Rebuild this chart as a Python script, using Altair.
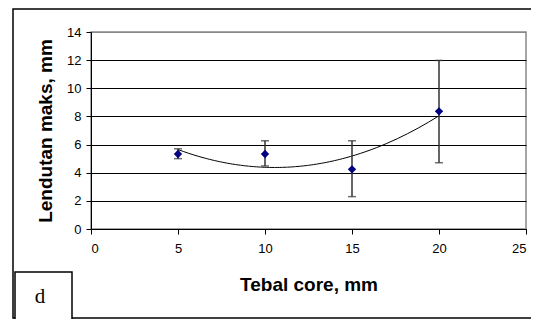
import altair as alt
import pandas as pd

thickness = [5, 10, 15, 20]
deflection = [5.33, 5.33, 4.24, 8.36]
err_low = [5.0, 4.48, 2.3, 4.71]
err_high = [5.7, 6.27, 6.27, 11.98]

x_ticks = [0, 5, 10, 15, 20, 25]
y_ticks = [0, 2, 4, 6, 8, 10, 12, 14]

x_title = "Tebal core, mm"
y_title = "Lendutan maks, mm"
panel_label = "d"

df = pd.DataFrame({"x": thickness, "y": deflection, "lo": err_low, "hi": err_high})

FONT = "Liberation Sans"

xscale = alt.Scale(domain=[0, 25], nice=False)
yscale = alt.Scale(domain=[0, 14], nice=False)

xaxis = alt.Axis(values=x_ticks, title=x_title, grid=False, domainColor="black",
                 tickColor="black", tickSize=5, labelFontSize=13, labelFont=FONT,
                 labelColor="black", labelPadding=8, labelOverlap=False,
                 titleFont=FONT, titleFontSize=19,
                 titleFontWeight="bold", titleColor="black", titlePadding=20)
yaxis = alt.Axis(values=y_ticks, title=y_title, grid=True, labelOverlap=False,
                 gridColor={"condition": {"test": "datum.value >= 14", "value": "#888888"}, "value": "black"},
                 gridWidth=1, domainColor="black", tickColor="black", tickSize=5,
                 labelFontSize=13, labelFont=FONT, labelColor="black", labelPadding=5,
                 titleFont=FONT, titleFontSize=19, titleFontWeight="bold", titleColor="black",
                 titlePadding=11)

X = alt.X("x:Q", scale=xscale, axis=xaxis)

base = alt.Chart(df)

trend = base.transform_regression("x", "y", method="poly", order=2, extent=[5, 20]).mark_line(
    color="black", strokeWidth=1
).encode(x=X, y=alt.Y("y:Q", scale=yscale, axis=yaxis))

bars = base.mark_rule(color="#333333", strokeWidth=1.5).encode(
    x=X, y=alt.Y("lo:Q", scale=yscale, axis=yaxis), y2="hi:Q")
cap_lo = base.mark_tick(orient="horizontal", color="#333333", size=8, thickness=1.5).encode(
    x=X, y=alt.Y("lo:Q", scale=yscale, axis=yaxis))
cap_hi = base.mark_tick(orient="horizontal", color="#333333", size=8, thickness=1.5).encode(
    x=X, y=alt.Y("hi:Q", scale=yscale, axis=yaxis))

points = base.mark_point(shape="diamond", filled=True, color="#000080", size=70, opacity=1).encode(
    x=X, y=alt.Y("y:Q", scale=yscale, axis=yaxis))

deco = pd.DataFrame({"t": [panel_label]})
outer = alt.Chart(deco).mark_rect(fill=None, stroke="black", strokeWidth=1.5).encode(
    x=alt.value(-78), x2=alt.value(460), y=alt.value(-23), y2=alt.value(286))
box = alt.Chart(deco).mark_rect(fill="white", stroke="black", strokeWidth=1.5).encode(
    x=alt.value(-76), x2=alt.value(-19), y=alt.value(240), y2=alt.value(295))
label = alt.Chart(deco).mark_text(font="Liberation Serif", fontSize=21, color="black",
                                  baseline="middle", align="center").encode(
    x=alt.value(-51), y=alt.value(265), text="t:N")

chart = alt.layer(outer, trend, bars, cap_lo, cap_hi, points, box, label).properties(
    width=435, height=197, autosize=alt.AutoSizeParams(type="none"),
    padding={"left": 83, "top": 24, "right": 5, "bottom": 90},
    background="white"
).configure_view(stroke="#888888", strokeWidth=1.5)

chart.save("out.html", embed_options={"renderer": "svg", "actions": False})
